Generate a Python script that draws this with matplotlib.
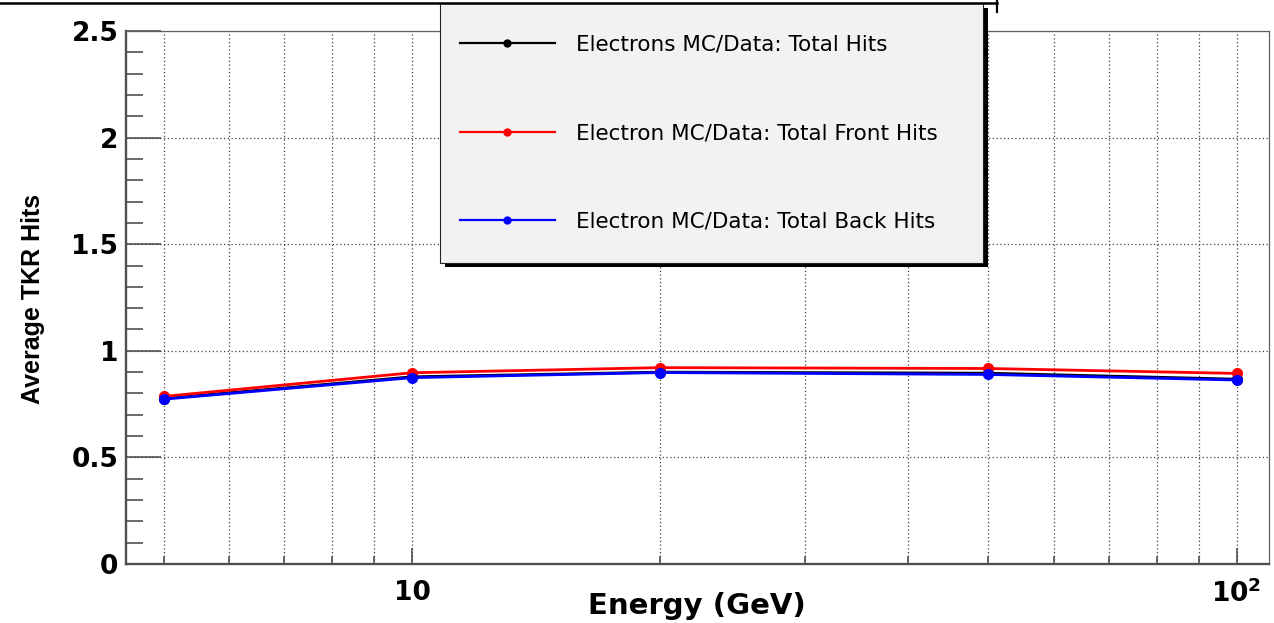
import matplotlib
matplotlib.use("Agg")
import matplotlib.pyplot as plt
from matplotlib.patches import Rectangle
from matplotlib.lines import Line2D
from matplotlib.ticker import FixedLocator, FixedFormatter, NullFormatter

# Beam energies (GeV) and MC/Data ratios of average tracker hits
energy = [5, 10, 20, 50, 100]
total_hits = [0.776, 0.878, 0.900, 0.895, 0.867]
front_hits = [0.786, 0.897, 0.921, 0.917, 0.894]
back_hits = [0.773, 0.874, 0.898, 0.889, 0.863]

series_labels = [
    "Electrons MC/Data: Total Hits",
    "Electron MC/Data: Total Front Hits",
    "Electron MC/Data: Total Back Hits",
]
x_major = [10, 100]
x_major_labels = ["10", r"$\mathbf{10^{2}}$"]
x_minor = [5, 6, 7, 8, 9, 20, 30, 40, 50, 60, 70, 80, 90]
y_major = [0, 0.5, 1, 1.5, 2, 2.5]
y_major_labels = ["0", "0.5", "1", "1.5", "2", "2.5"]
y_minor = [0.1, 0.2, 0.3, 0.4, 0.6, 0.7, 0.8, 0.9, 1.1, 1.2, 1.3, 1.4,
           1.6, 1.7, 1.8, 1.9, 2.1, 2.2, 2.3, 2.4]

W, H = 1274, 623
plt.rcParams["mathtext.fontset"] = "dejavusans"


def fx(x):
    return x / W


def fy(y):
    return 1 - y / H


fig = plt.figure(figsize=(W / 100, H / 100), dpi=100)
ax = fig.add_axes([fx(126), fy(564), (1269 - 126) / W, (564 - 31) / H])

colors = ["black", "#ff0000", "#0000ff"]
lines = []
for vals, c, lab in zip([total_hits, front_hits, back_hits], colors, series_labels):
    ln, = ax.plot(energy, vals, color=c, lw=2.0, marker="o", ms=8,
                  markeredgewidth=0, label=lab, zorder=3)
    lines.append(ln)

ax.set_xscale("log")
ax.set_xlim(4.5, 109.5)
ax.set_ylim(0, 2.5)

ax.xaxis.set_major_locator(FixedLocator(x_major))
ax.xaxis.set_major_formatter(FixedFormatter(x_major_labels))
ax.xaxis.set_minor_locator(FixedLocator(x_minor))
ax.xaxis.set_minor_formatter(NullFormatter())
ax.yaxis.set_major_locator(FixedLocator(y_major))
ax.yaxis.set_major_formatter(FixedFormatter(y_major_labels))
ax.yaxis.set_minor_locator(FixedLocator(y_minor))

for lbl in ax.get_xticklabels() + ax.get_yticklabels():
    lbl.set_fontfamily("DejaVu Sans")
    lbl.set_fontweight("bold")
    lbl.set_fontsize(19)

ax.tick_params(axis="y", which="major", direction="in", length=25, width=1.1,
               color="#444444", pad=5.5, left=True, right=False)
ax.tick_params(axis="y", which="minor", direction="in", length=12, width=1.1,
               color="#444444", left=True, right=False)
ax.tick_params(axis="x", which="major", direction="in", length=11.5, width=1.1,
               color="#444444", pad=11.5, bottom=True, top=False)
ax.tick_params(axis="x", which="minor", direction="in", length=6, width=1.1,
               color="#444444", bottom=True, top=False)

ax.grid(True, axis="x", which="both", linestyle=(0, (1, 2)), color="#444444", lw=0.9)
ax.grid(True, axis="y", which="major", linestyle=(0, (1, 2)), color="#444444", lw=0.9)
ax.set_axisbelow(True)

for side in ["left", "bottom"]:
    ax.spines[side].set_linewidth(1.7)
    ax.spines[side].set_color("#505050")
for side in ["top", "right"]:
    ax.spines[side].set_linewidth(0.9)
    ax.spines[side].set_color("#606060")

ax.set_xlabel("Energy (GeV)", fontfamily="DejaVu Sans", fontweight="bold",
              fontsize=21, labelpad=4)
ax.set_ylabel("Average TKR Hits", fontfamily="Liberation Sans", fontweight="bold",
              fontsize=18, labelpad=10)
ax.xaxis.set_label_coords((697 - 126) / (1269 - 126), -(606 - 564) / (564 - 31))
ax.xaxis.label.set_va("center")
ax.yaxis.set_label_coords(-(126 - 33) / (1269 - 126), (564 - 299) / (564 - 31))
ax.yaxis.label.set_va("center")

# Legend box with a solid drop shadow
fig.add_artist(Rectangle((fx(445), fy(267)), fx(988) - fx(445), fy(8) - fy(267),
                         facecolor="black", edgecolor="none", zorder=3))
fig.add_artist(Rectangle((fx(440), fy(263)), fx(983) - fx(440), fy(3) - fy(263),
                         facecolor="#f2f2f2", edgecolor="#222222", lw=0.8, zorder=4))

# Title pave edge across the top of the canvas
fig.add_artist(Line2D([fx(0), fx(997)], [fy(3), fy(3)], color="black", lw=1.8, zorder=7))
fig.add_artist(Line2D([fx(997), fx(997)], [fy(0), fy(12)], color="black", lw=1.6, zorder=7))

leg = fig.legend(handles=lines, labels=series_labels, loc="upper left",
                 bbox_to_anchor=(fx(460), fy(34.5)), bbox_transform=fig.transFigure,
                 frameon=False, borderpad=0, borderaxespad=0,
                 handlelength=4.4, handletextpad=0.98, labelspacing=3.19,
                 prop={"family": "DejaVu Sans", "size": 15.5}, numpoints=1,
                 markerscale=0.75)
for h in leg.legend_handles:
    h.set_linewidth(1.6)
leg.set_zorder(6)

fig.savefig("out.png", dpi=100)
